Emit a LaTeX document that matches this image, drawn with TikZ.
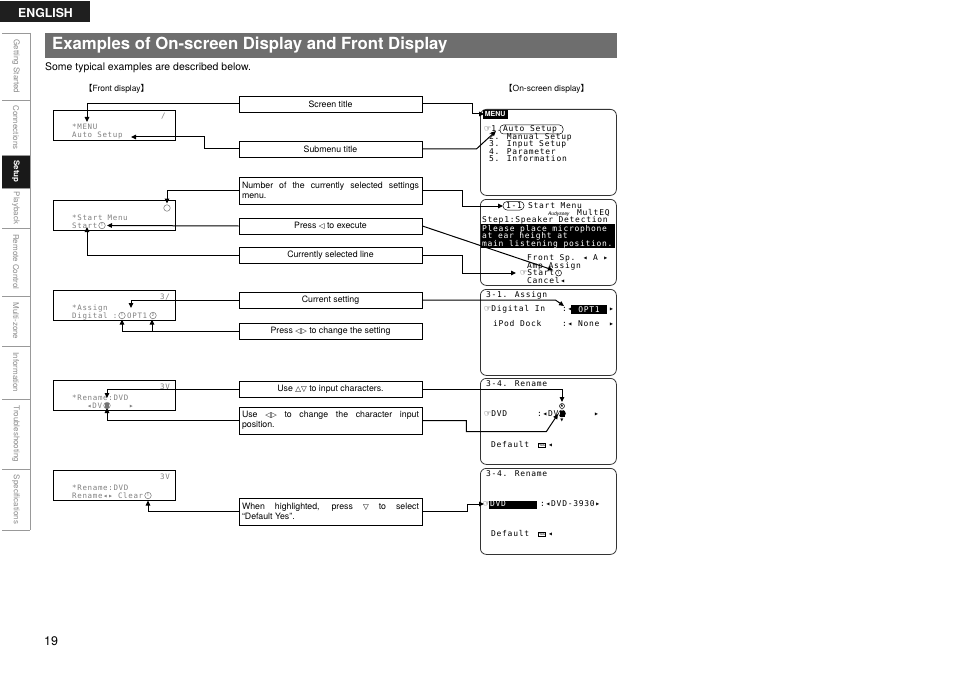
\documentclass[tikz,border=0pt]{standalone}
\usepackage{fontspec}
\setmainfont{TeX Gyre Heros}
\newfontfamily\symf{DejaVu Sans}
\newfontfamily\cjkf{Noto Sans CJK JP}
\newfontfamily\lcdf[LetterSpace=9]{DejaVu Sans Mono}
\newfontfamily\osdf[LetterSpace=9]{DejaVu Sans Mono}
\usetikzlibrary{arrows.meta,calc}
\newcommand{\hnd}{{\symf\fontsize{8}{8}\selectfont ☞}}
\begin{document}
\begin{tikzpicture}[x=1bp,y=-1bp,
 arr/.style={-{Triangle[length=5bp,width=4.5bp]}, line width=1bp},
 lbl/.style={draw, line width=0.8bp, minimum width=183bp, minimum height=16bp, inner sep=1.5bp, font=\fontsize{8.8}{10.5}\selectfont},
 lbl2/.style={lbl, text width=177bp, align=justify, minimum height=27bp},
 lcd/.style={draw, line width=0.8bp, anchor=north west, minimum width=122bp, minimum height=30bp, inner sep=0},
 lcdt/.style={anchor=base west, inner sep=0, text=black!50, font=\lcdf\fontsize{7.5}{7.5}\selectfont},
 lcdc/.style={circle, draw=black!55, line width=0.5bp, minimum size=6.5bp, inner sep=0, font=\fontsize{4}{4}\selectfont, text=black!60},
 osd/.style={draw=black!80, rounded corners=6bp, line width=0.8bp, anchor=north west, minimum width=136bp, minimum height=86bp, inner sep=0},
 osdt/.style={anchor=base west, inner sep=0, font=\osdf\fontsize{8}{8}\selectfont},
 tab/.style={rotate=-90, text=black!45, font=\fontsize{8}{8}\selectfont, inner sep=0},
 sepl/.style={black!40, line width=0.6bp}
]
\path[fill=white,use as bounding box] (0,0) rectangle (954,675);

% header
\fill[black!88] (0,1) rectangle (90,22);
\node[text=white, font=\bfseries\fontsize{12.3}{12.3}\selectfont, inner sep=0] (eng) at (45.5,13) {ENGLISH};
\fill[black!57] (45,33) rectangle (617,58);
\node[anchor=west, text=white, font=\bfseries\fontsize{16.8}{16.8}\selectfont, inner sep=0] (title) at (52,45.5) {Examples of On-screen Display and Front Display};
\node[anchor=base west, inner sep=0, font=\fontsize{10.5}{10.5}\selectfont] (sub) at (45,70.5) {Some typical examples are described below.};
\node[anchor=base west, inner sep=0, font=\fontsize{8.5}{8.5}\selectfont] (fdh) at (84,92) {{\cjkf 【}Front display{\cjkf 】}};
\node[anchor=base west, inner sep=0, font=\fontsize{8.5}{8.5}\selectfont] (odh) at (504,92) {{\cjkf 【}On-screen display{\cjkf 】}};
\node[anchor=base west, inner sep=0, font=\fontsize{12.5}{12.5}\selectfont] (pg) at (44,645) {19};

% sidebar
\draw[sepl] (30,33) -- (30,530);
\fill[black!90] (2,155) rectangle (30,188);
\foreach \yy in {33,100,155,188,228,296,346,399,469,530} \draw[sepl] (2,\yy) -- (30,\yy);
\node[tab] (t1) at (16,66.5) {Getting Started};
\node[tab] (t2) at (16,127.5) {Connections};
\node[tab, text=white, font=\bfseries\fontsize{8}{8}\selectfont] (t3) at (16,171.5) {Setup};
\node[tab] (t4) at (16,208) {Playback};
\node[tab] (t5) at (16,262) {Remote Control};
\node[tab] (t6) at (16,321) {Multi-zone};
\node[tab] (t7) at (16,372.5) {Information};
\node[tab] (t8) at (16,434) {Troubleshooting};
\node[tab] (t9) at (16,499.5) {Specifications};

% front displays
\node[lcd] (f1) at (53,110) {};
\node[lcdt] (f1a) at (72,130) {*MENU};
\node[lcdt] (f1b) at (72,138) {Auto Setup};
\node[lcdt] (f1c) at (161,119) {/};

\node[lcd] (f2) at (53,200) {};
\node[lcdt] (f2a) at (72,220) {*Start Menu};
\node[lcdt] (f2b) at (72,228) {Start};
\node[lcdc] (f2c) at (102,225.5) {1};
\node[lcdc] (f2d) at (167,208) {};

\node[lcd] (f3) at (53,290) {};
\node[lcdt] (f3a) at (72,310) {*Assign};
\node[lcdt] (f3b) at (72,318) {Digital :};
\node[lcdc] (f3c) at (122,315.5) {1};
\node[lcdt] (f3d) at (127,318) {OPT1};
\node[lcdc] (f3e) at (153,315.5) {2};
\node[lcdt] (f3f) at (160,299) {3/};

\node[lcd] (f4) at (53,380) {};
\node[lcdt] (f4a) at (72,400) {*Rename:DVD};
\node[lcdt] (f4b) at (87,408) {◂DV};
\node[lcdc] (f4c) at (107,405.5) {};
\fill[black!55] (105,403) rectangle (109,408);
\node[lcdt] (f4d) at (129,408) {▸};
\node[lcdt] (f4e) at (160,389) {3V};

\node[lcd] (f5) at (53,470) {};
\node[lcdt] (f5a) at (72,490) {*Rename:DVD};
\node[lcdt] (f5b) at (72,498) {Rename◂▸ Clear};
\node[lcdc] (f5c) at (148,495.5) {1};
\node[lcdt] (f5e) at (160,479) {3V};

% label boxes
\node[lbl] (st) at (330.5,104) {Screen title};
\node[lbl] (sm) at (330.5,149) {Submenu title};
\node[lbl2] (nm) at (330.5,190.5) {Number of the currently selected settings\linebreak menu.};
\node[lbl] (px) at (330.5,226) {Press {\symf\fontsize{7.5}{7.5}\selectfont ◁} to execute};
\node[lbl] (cs) at (330.5,255) {Currently selected line};
\node[lbl] (cur) at (330.5,300) {Current setting};
\node[lbl] (pc) at (330.5,331) {Press {\symf\fontsize{7.5}{7.5}\selectfont ◁▷} to change the setting};
\node[lbl] (ud) at (330.5,389) {Use {\symf\fontsize{7.5}{7.5}\selectfont △▽} to input characters.};
\node[lbl2] (lr) at (330.5,420.5) {Use {\symf\fontsize{7.5}{7.5}\selectfont ◁▷} to change the character input\linebreak position.};
\node[lbl2] (wh) at (330.5,511.5) {When highlighted, press {\symf\fontsize{7.5}{7.5}\selectfont ▽} to select\linebreak “Default Yes”.};

% on-screen displays
\node[osd] (o1) at (480,109) {};
\node[fill=black, text=white, font=\bfseries\fontsize{7}{7}\selectfont, inner sep=0.5bp, anchor=west, minimum height=9.5bp, minimum width=25bp] (menu) at (482.5,114.5) {MENU};
\node[osdt] (o1a) at (484,131.5) {\hnd 1.};
\node[osdt] (o1b) at (503,131.5) {Auto Setup};
\draw[rounded corners=3.5bp, line width=0.5bp] (500,125) rectangle (563,134);
\node[osdt] (o1c) at (489,139.5) {2. Manual Setup};
\node[osdt] (o1d) at (489,147) {3. Input Setup};
\node[osdt] (o1e) at (489,154.5) {4. Parameter};
\node[osdt] (o1f) at (489,162) {5. Information};

\node[osd] (o2) at (480,199) {};
\draw[rounded corners=4bp, line width=0.5bp] (503,201.5) rectangle (524,210);
\node[osdt] (o2a) at (506,208) {1-1};
\node[osdt] (o2b) at (528,208) {Start Menu};
\node[anchor=base west, inner sep=0, font=\itshape\fontsize{5}{5}\selectfont] (o2c) at (548,215.5) {Audyssey};
\node[osdt] (o2d) at (577,215.5) {MultEQ};
\node[osdt] (o2e) at (482,222.5) {Step1:Speaker Detection};
\fill[black] (481,224) rectangle (615,248);
\node[osdt, text=white] (o2f) at (482,231) {Please place microphone};
\node[osdt, text=white] (o2g) at (482,238.5) {at ear height at};
\node[osdt, text=white] (o2h) at (482,246) {main listening position.};
\node[osdt] (o2i) at (527,260.5) {Front Sp. ◂ A ▸};
\node[osdt] (o2j) at (527,268) {Amp Assign};
\node[osdt] (o2k) at (520,275.5) {\hnd Start};
\node[circle, draw, line width=0.5bp, minimum size=6bp, inner sep=0, font=\fontsize{4}{4}\selectfont] (o2l) at (558.5,273) {1};
\node[osdt] (o2m) at (527,283) {Cancel◂};

\node[osd] (o3) at (480,289) {};
\node[osdt] (o3a) at (486,297.5) {3-1. Assign};
\node[osdt] (o3b) at (484,311.5) {\hnd Digital In};
\node[osdt] (o3c) at (562,311.5) {:◂};
\node[fill=black, text=white, font=\osdf\fontsize{8}{8}\selectfont, minimum width=36bp, minimum height=9bp, inner sep=0] (opt) at (589,309.5) {OPT1};
\node[osdt] (o3d) at (609,311.5) {▸};
\node[osdt] (o3e) at (493,326.5) {iPod Dock};
\node[osdt] (o3f) at (562,326.5) {:◂ None};
\node[osdt] (o3g) at (609,326.5) {▸};

\node[osd] (o4) at (480,378) {};
\node[osdt] (o4a) at (486,386.5) {3-4. Rename};
\node[osdt] (o4b) at (484,416.5) {\hnd DVD};
\node[osdt] (o4c) at (537,416.5) {:◂DV};
\node[circle, draw, line width=0.5bp, minimum size=7bp, inner sep=0] (o4d) at (562,413.5) {};
\fill (559.5,410.5) rectangle (564.5,416.5);
\node[circle, draw, line width=0.5bp, minimum size=5bp, inner sep=0, font=\symf\fontsize{3.5}{3.5}\selectfont] (o4e) at (562,406) {▲};
\node[inner sep=0, font=\symf\fontsize{4}{4}\selectfont] (o4f) at (562,420.5) {▼};
\node[osdt] (o4g) at (594,416.5) {▸};
\node[osdt] (o4h) at (491,447.5) {Default};
\node[draw, line width=0.5bp, inner sep=0.6bp, font=\fontsize{3.5}{3.5}\selectfont] (o4i) at (542,445.5) {Yes};
\node[osdt] (o4j) at (548,447.5) {◂};

\node[osd] (o5) at (480,468) {};
\node[osdt] (o5a) at (486,476.5) {3-4. Rename};
\node[osdt] (o5b) at (483,506.5) {\hnd};
\fill[black] (489,500.5) rectangle (537,509);
\node[osdt, text=white] (o5c) at (490,506.5) {DVD};
\node[osdt] (o5d) at (540,506.5) {:◂DVD-3930▸};
\node[osdt] (o5e) at (491,536.5) {Default};
\node[draw, line width=0.5bp, inner sep=0.6bp, font=\fontsize{3.5}{3.5}\selectfont] (o5f) at (542,534.5) {Yes};
\node[osdt] (o5g) at (548,536.5) {◂};

% arrow targets
\coordinate (a1) at (87,122);
\coordinate (b1) at (484,114);
\coordinate (a2) at (131,137);
\coordinate (b2) at (496,131);
\coordinate (a3) at (167,203.5);
\coordinate (b3) at (503,206);
\coordinate (a4) at (107,225.5);
\coordinate (b4) at (553,270);
\coordinate (a5) at (87,227);
\coordinate (b5) at (516,273);
\coordinate (a6) at (131,308);
\coordinate (b6) at (564,306);
\coordinate (a7) at (122,319.5);
\coordinate (a7b) at (152,319.5);
\coordinate (a8) at (107,398);
\coordinate (b8) at (562,402);
\coordinate (a9) at (107,408);
\coordinate (b9) at (558,414);
\coordinate (a10) at (148,500.5);
\coordinate (b10) at (484,504);

% connectors
\draw[arr] (st.west) -| (a1);
\draw[arr] (st.east) -- ++(50,0) |- (b1);
\draw[arr] (sm.west) -- ++(-34,0) |- (a2);
\draw[arr] (sm.east) -- ++(54,0) -- (b2);
\draw[arr] (nm.west) -| (a3);
\draw[arr] (nm.east) -- ++(40,0) |- (b3);
\draw[arr] (px.west) -- (a4);
\draw[arr] (px.east) -- (b4);
\draw[arr] (cs.west) -| (a5);
\draw[arr] (cs.east) -- ++(40,0) |- (b5);
\draw[arr] (cur.west) -| (a6);
\draw[arr] (cur.east) -- ++(133,0) -- (b6);
\draw[arr] (pc.west) -| (a7);
\draw[arr] (a7b |- pc.west) -- (a7b);
\draw[arr] (ud.west) -| (a8);
\draw[arr] (ud.east) -| (b8);
\draw[arr] (lr.west) -| (a9);
\draw[arr] (lr.east) -- ++(44,0) -- ++(0,11) -- ++(80,0) -- (b9);
\draw[arr] (wh.west) -| (a10);
\draw[arr] (wh.east) -- ++(45,0) |- (b10);
\end{tikzpicture}
\end{document}
